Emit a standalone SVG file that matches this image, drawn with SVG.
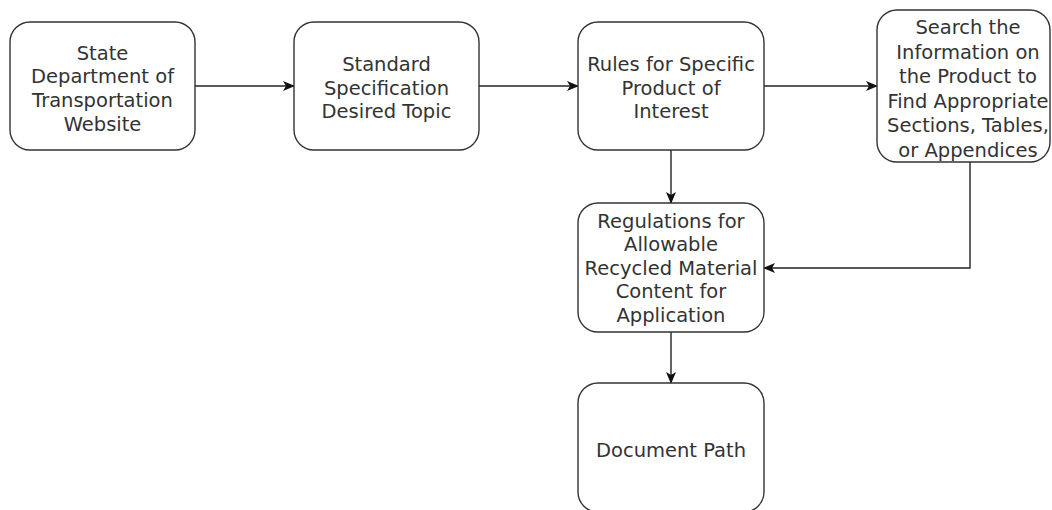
<svg xmlns="http://www.w3.org/2000/svg" width="1052" height="510" viewBox="0 0 1052 510">
<style>
.box{fill:#fff;stroke:#333;stroke-width:1.4}
.t{font-family:"DejaVu Sans",Verdana,sans-serif;font-size:19.5px;fill:#333;text-anchor:middle}
.c{fill:none;stroke:#222;stroke-width:1.4}
</style>
<defs>
<marker id="ah" viewBox="0 0 12 10" refX="11" refY="5" markerWidth="12" markerHeight="10" markerUnits="userSpaceOnUse" orient="auto">
<path d="M0,0 L12,5 L0,10 L3,5 Z" fill="#111"/>
</marker>
</defs>
<rect width="1052" height="510" fill="#fff"/>
<g id="connectors">
<path class="c" d="M195,86 H294" marker-end="url(#ah)"/>
<path class="c" d="M479,86 H578" marker-end="url(#ah)"/>
<path class="c" d="M764,86 H877" marker-end="url(#ah)"/>
<path class="c" d="M671,150 V203" marker-end="url(#ah)"/>
<path class="c" d="M970,162 V268 H764" marker-end="url(#ah)"/>
<path class="c" d="M671,332 V383" marker-end="url(#ah)"/>
</g>
<g id="n1">
<rect class="box" x="10" y="22" width="185" height="128" rx="20"/>
<text class="t"><tspan x="102.5" y="59.5">State</tspan><tspan x="102.5" y="83">Department of</tspan><tspan x="102.5" y="107">Transportation</tspan><tspan x="102.5" y="130.5">Website</tspan></text>
</g>
<g id="n2">
<rect class="box" x="294" y="22" width="185" height="128" rx="20"/>
<text class="t"><tspan x="386.5" y="71">Standard</tspan><tspan x="386.5" y="94.5">Specification</tspan><tspan x="386.5" y="118">Desired Topic</tspan></text>
</g>
<g id="n3">
<rect class="box" x="578" y="22" width="186" height="128" rx="20"/>
<text class="t"><tspan x="671" y="71">Rules for Specific</tspan><tspan x="671" y="94.5">Product of</tspan><tspan x="671" y="118">Interest</tspan></text>
</g>
<g id="n4">
<rect class="box" x="877" y="10" width="173" height="152" rx="20"/>
<text class="t"><tspan x="968" y="34">Search the</tspan><tspan x="968" y="58.5">Information on</tspan><tspan x="968" y="83">the Product to</tspan><tspan x="968" y="107.5">Find Appropriate</tspan><tspan x="968" y="132">Sections, Tables,</tspan><tspan x="968" y="156.5">or Appendices</tspan></text>
</g>
<g id="n5">
<rect class="box" x="578" y="203" width="186" height="129" rx="20"/>
<text class="t"><tspan x="671" y="227.5">Regulations for</tspan><tspan x="671" y="251">Allowable</tspan><tspan x="671" y="274.5">Recycled Material</tspan><tspan x="671" y="298">Content for</tspan><tspan x="671" y="321.5">Application</tspan></text>
</g>
<g id="n6">
<rect class="box" x="578" y="383" width="186" height="129" rx="20"/>
<text class="t"><tspan x="671" y="457">Document Path</tspan></text>
</g>
</svg>
